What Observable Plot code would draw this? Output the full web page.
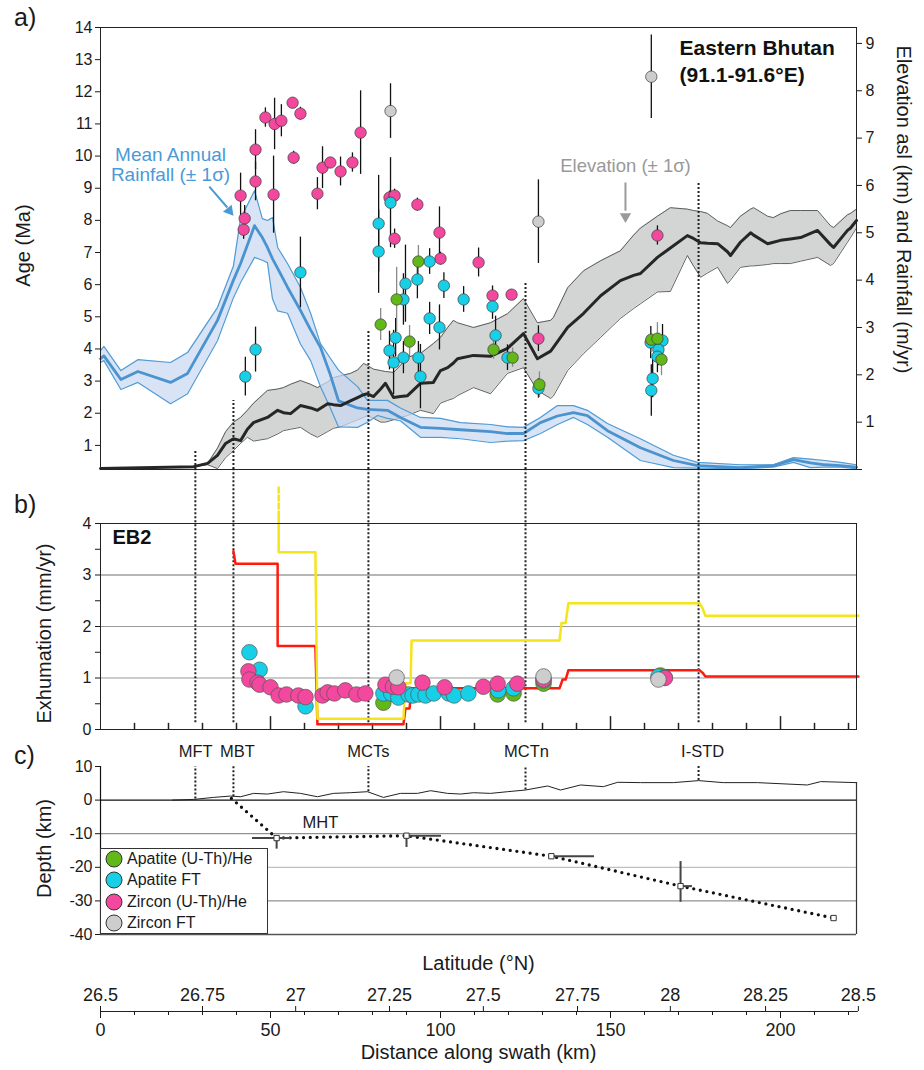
<!DOCTYPE html>
<html><head><meta charset="utf-8">
<script src="https://cdn.jsdelivr.net/npm/d3@7"></script>
<script src="https://cdn.jsdelivr.net/npm/@observablehq/plot@0.6"></script>
<style>
body{margin:0;background:#fff;}
#chart{position:relative;width:924px;height:1070px;font-family:"Liberation Sans",Arial,Helvetica,sans-serif;color:#1a1a1a;}
#chart > svg{position:absolute;left:0;}
.plbl{position:absolute;font-size:25px;line-height:1;}
.legend{position:absolute;left:100px;top:848px;width:168px;height:86px;box-sizing:border-box;border:1px solid #333;background:#fff;}
.legend .item{position:absolute;left:3px;font-size:16px;line-height:20px;height:20px;white-space:nowrap;display:flex;align-items:center;}
.legend .item svg{display:block;margin-right:3px;flex:none;}
</style></head><body><div id="chart"></div>
<script>
// ---------------- DATA ----------------
const KM_MAX = 222.35;

// faults (km along swath)
const faultNames   = ["MFT", "MBT", "MCTs", "MCTn", "I-STD"];
const faultKm      = [27.9, 39.1, 78.8, 125.0, 175.9];
const faultLabelKm = [28.0, 40.3, 78.8, 125.3, 177.1];
const faultTopAge  = [0.84, 2.4, 4.57, 6.07, 9.15];
const faultTopo    = [0.3, 1.0, 2.5, 3.0, 5.8];

// thermochronometer types
const typeKeys   = ["AHe", "AFT", "ZHe", "ZFT"];
const typeNames  = ["Apatite (U-Th)/He", "Apatite FT", "Zircon (U-Th)/He", "Zircon FT"];
const typeColors = ["#62b818", "#18cfe8", "#f4479e", "#cdcdcd"];

// panel a: cooling ages [km, age (Ma), 1σ]
const aheAges = [[82.4,4.76,0.5],[87.1,5.54,1.0],[90.9,4.23,0.5],[93.5,6.72,0.5],[115.6,3.98,0.3],[121.2,3.73,0.3],[129.1,2.89,0.4],[162.0,4.29,0.4],[163.8,4.32,0.5],[165.0,3.67,0.5]];
const aftAges = [[42.6,3.14,0.6],[45.6,3.98,0.7],[58.8,6.38,1.1],[81.8,7.9,1.5],[81.8,7.03,1.3],[85.3,8.55,1.4],[89.7,6.03,1.2],[93.2,6.16,0.6],[101.0,5.97,0.4],[89.1,5.54,0.8],[106.8,5.54,0.4],[115.3,5.32,0.4],[96.8,4.95,0.5],[99.7,4.67,0.7],[116.2,4.42,0.6],[86.8,4.35,0.6],[85.0,3.95,0.6],[89.1,3.73,0.5],[93.5,3.73,0.5],[86.2,3.58,1.0],[94.1,3.14,1.0],[96.8,6.72,0.4],[119.7,3.73,0.4],[128.8,2.77,0.3],[161.8,4.2,0.5],[165.3,4.26,0.5],[164.1,3.98,0.5],[163.8,3.76,0.5],[162.4,3.08,0.6],[162.0,2.71,0.8]];
const zheAges = [[41.2,8.77,0.7],[42.4,8.06,0.4],[42.1,7.71,0.3],[45.6,10.2,0.62],[45.6,9.21,0.6],[48.5,11.2,0.3],[51.2,11.0,0.8],[53.2,11.1,0.5],[50.9,8.8,1.2],[56.5,11.66,0.1],[58.8,11.32,0.2],[56.8,9.95,0.2],[65.3,9.64,0.65],[67.6,9.8,0.15],[63.8,8.83,0.5],[70.6,9.52,0.45],[74.1,9.8,0.3],[76.5,10.73,1.3],[85.0,8.71,0.2],[86.5,8.77,0.2],[93.2,8.49,0.2],[86.5,7.43,0.3],[99.7,7.62,0.8],[100.0,6.81,0.2],[111.2,6.69,0.45],[115.3,5.66,0.3],[120.9,5.69,0.15],[128.8,4.32,0.4],[163.8,7.53,0.3]];
const zftAges = [[85.3,11.4,0.85],[128.8,7.96,1.3],[162.0,12.47,1.3]];

// panel a: mean annual rainfall [km, mean-1σ, mean, mean+1σ] (m/yr)
const rainRows = [[0,2.26,2.34,2.51],[1,2.3,2.4,2.6],[6,1.69,1.9,2.09],[11,1.84,2.07,2.32],[20.6,1.39,1.84,2.26],[25.6,1.6,2.03,2.47],[34.4,2.72,3.15,3.42],[39.1,3.63,4.0,4.3],[41.2,3.95,4.35,5.3],[45.3,4.48,5.15,5.89],[47.6,4.42,4.9,5.3],[49.1,4.37,4.69,5.26],[50.6,3.6,4.45,5.32],[52.1,3.35,4.25,4.69],[55,3.3,3.85,4.35],[58.8,2.65,3.36,3.85],[61.8,2.3,2.95,3.3],[64.7,1.75,2.58,2.66],[67.6,1.3,2.0,2.35],[70,0.9,1.45,2.1],[75.6,0.89,1.3,1.75],[78.5,1.0,1.27,1.46],[81.5,1.14,1.26,1.46],[84.4,1.08,1.25,1.46],[88.2,1.03,1.1,1.3],[94.1,0.68,0.89,1.1],[100,0.68,0.87,1.08],[105.9,0.65,0.84,0.99],[114.7,0.57,0.8,0.95],[119.7,0.6,0.76,0.9],[124.4,0.61,0.76,0.89],[129.4,0.76,0.99,1.1],[134.4,0.95,1.13,1.35],[139.1,1.1,1.2,1.35],[143.2,0.95,1.14,1.25],[149.1,0.68,0.82,0.97],[158.8,0.19,0.46,0.65],[168.5,0.04,0.19,0.3],[175.6,0.03,0.08,0.15],[188.2,0.02,0.04,0.1],[197.9,0.05,0.08,0.1],[203.8,0.15,0.21,0.25],[208.8,0.04,0.14,0.22],[213,0.05,0.1,0.19],[217.6,0.05,0.08,0.15],[222.35,0.02,0.05,0.1]];

// panel a: elevation [km, mean-1σ, mean, mean+1σ] (km)
const elevRows = [[0,0.02,0.02,0.02],[27.4,0.06,0.06,0.06],[31.5,0.1,0.13,0.13],[34.4,0.02,0.3,0.45],[36.8,0.25,0.55,0.8],[39.1,0.4,0.65,1.0],[41.2,0.55,0.61,1.1],[43.2,0.68,0.85,1.25],[45,0.6,0.99,1.4],[49.1,0.65,1.1,1.67],[52.1,0.75,1.25,1.7],[53.8,0.82,1.2,1.73],[55.9,0.85,1.18,1.8],[58.8,0.89,1.35,1.88],[61.8,0.75,1.3,1.8],[63.8,0.68,1.25,1.73],[66.8,0.8,1.39,1.85],[68.5,0.87,1.37,1.94],[70.6,0.9,1.35,1.98],[73.5,0.99,1.45,2.03],[75.6,1.05,1.52,2.1],[77.4,1.1,1.58,2.24],[78.5,1.14,1.6,2.2],[80.3,1.08,1.54,2.12],[82.4,1.0,1.7,2.09],[83.8,1.0,1.82,2.07],[86.2,1.05,1.52,2.05],[88.2,1.1,1.54,2.2],[90.3,1.14,1.56,2.37],[94.1,1.25,1.82,2.45],[97.9,1.18,1.84,2.66],[100,1.4,2.09,2.79],[102.1,1.46,2.15,3.0],[103.8,1.5,2.25,3.15],[105,1.56,2.34,3.1],[109.7,1.73,2.41,3.0],[114.7,1.6,2.39,3.1],[119.7,2.03,2.56,3.29],[124.4,2.15,2.87,3.61],[128.5,1.67,2.34,3.1],[132.4,1.5,2.5,3.15],[133.2,1.55,2.58,3.21],[137.4,2.09,3.0,3.84],[142.1,2.45,3.3,4.2],[147.1,2.79,3.67,4.41],[152.9,3.19,3.99,4.62],[156.8,3.4,4.1,4.95],[158.8,3.5,4.14,5.1],[163.8,3.75,4.48,5.35],[167.6,3.76,4.68,5.53],[172.6,4.52,4.94,5.5],[174.4,4.3,4.88,5.47],[176.5,4.06,4.79,5.45],[178.5,4.15,4.78,5.41],[181.5,4.27,4.77,5.25],[184.4,3.93,4.6,5.15],[185.3,4.0,4.52,5.11],[188.2,4.27,4.8,5.35],[191.2,4.3,5.0,5.5],[192.1,4.3,4.95,5.53],[196.2,4.33,4.77,5.35],[197.9,4.35,4.8,5.32],[200,4.35,4.84,5.4],[202.9,4.35,4.87,5.47],[205.9,4.4,4.9,5.47],[210.9,4.48,5.05,5.47],[214.7,4.31,4.75,5.15],[215.6,4.35,4.69,5.11],[219.7,4.8,5.05,5.38],[220.6,4.9,5.1,5.41],[222.35,5.1,5.26,5.5]];

// panel b: exhumation rates [km, mm/yr]
const aheRates = [[83.2,0.52],[116.8,0.68],[121.5,0.7],[130.3,0.89],[164.7,1.05]];
const aftRates = [[43.8,1.5],[46.8,1.16],[60.3,0.45],[83.2,0.7],[85.5,0.7],[87.6,0.62],[90.6,0.68],[91.8,0.66],[93.5,0.68],[95.6,0.66],[98,0.7],[102.4,0.7],[104,0.66],[108.2,0.7],[117,0.76],[121.5,0.8],[130.3,0.95],[164.1,1.03],[165.9,1.01]];
const zheRates = [[43.5,1.13],[43.8,0.97],[46.2,0.91],[46.8,0.87],[50,0.82],[52.4,0.66],[54.7,0.68],[58.2,0.66],[60.3,0.63],[65.3,0.66],[66.8,0.72],[68.8,0.7],[72,0.76],[75.3,0.68],[77.9,0.7],[83.8,0.87],[86,0.83],[87.6,0.82],[94.7,0.91],[101.2,0.82],[112.6,0.83],[116.8,0.89],[122.6,0.89],[130.3,0.97],[166,1.0]];
const zftRates = [[87.1,1.01],[130.3,1.03],[164.1,0.97]];

// panel b: model exhumation profiles [km, mm/yr]
const redModel = [[39.1,3.46],[39.7,3.22],[52.1,3.22],[52.1,1.62],[63.2,1.62],[63.8,0.1],[89.1,0.1],[89.7,0.41],[90.9,0.41],[91.5,0.8],[135,0.8],[135.9,0.97],[136.8,0.97],[137.6,1.15],[176.2,1.15],[177.1,1.1],[177.9,1.03],[222.9,1.03]];
const yellowModel = [[52.4,4.12],[52.4,3.44],[63.2,3.44],[63.8,0.21],[89.1,0.21],[89.7,0.9],[91.2,0.9],[91.5,1.73],[135,1.73],[135.6,2.07],[136.8,2.07],[137.6,2.45],[176.2,2.45],[177.1,2.35],[177.9,2.21],[222.9,2.21]];
const yellowDashed = [[52.4,4.7],[52.4,4.12]];

// panel c: topography (km) and Main Himalayan Thrust geometry
const topoRows = [[21.2,0],[27.4,0.2],[33.2,0.8],[38.2,1.2],[41.2,1.0],[45,2.0],[49.1,1.8],[53.8,2.5],[58.8,2.0],[63.8,1.0],[68.5,2.0],[73.5,2.2],[78.5,2.5],[83.2,0.8],[88.2,2.0],[93.2,2.0],[97.1,2.8],[102.1,2.0],[105.9,1.8],[109.7,2.2],[114.7,2.0],[119.7,2.5],[125,3.0],[131.5,4.2],[135.3,3.0],[141.2,4.5],[147.9,4.0],[152.1,5.3],[158.8,5.2],[168.5,5.2],[175.9,5.8],[183.2,5.2],[193.2,5.2],[207.9,4.5],[211.8,5.5],[222.35,5.2]];
const mhtLine = [[38.5,0.5],[51.8,-11.3],[90,-10.6],[132.6,-16.7],[170.6,-25.6],[215.6,-35.1]];
const mhtNodes = [[51.8,-11.3],[90,-10.6],[132.6,-16.7],[170.6,-25.6],[215.6,-35.1]];
const mhtErrH = [[44.7,56,-11.3],[90,100.3,-10.6],[132.6,145.3,-16.7],[170.6,174.1,-25.6]];
const mhtErrV = [[51.8,-11.3,-14.6],[90,-10.6,-14.1],[170.6,-18.3,-30.4]];

// bottom axis
const distTicks = [0, 50, 100, 150, 200];
const latLabels = ["26.5","26.75","27","27.25","27.5","27.75","28","28.25","28.5"];
const latKm     = [0, 30.0, 57.4, 85.0, 112.6, 140.3, 167.6, 195.6, 222.9];

// annotation anchors (data units)
const rainNote = {km: 20.6, age: 9.24};
const elevNote = {km: 154.4, age: 9.49};
const titleNote = {km: 170.3, age: 12.29};
const noteArrows = [
  {x1: 32.0, y1: 9.05, x2: 37.3, y2: 8.4, tipX: 37.9, tipY: 8.3, angle: 141, color: "#4a9ad6"},
  {x1: 154.4, y1: 9.18, x2: 154.4, y2: 8.3, tipX: 154.4, tipY: 8.12, angle: 180, color: "#9a9a9a"}
];

// ---------------- BUILD ----------------
const W = 924, ML = 100, MR = 68;
const FONT = "'Liberation Sans', Arial, Helvetica, sans-serif";
const style = {fontFamily: FONT, fontSize: "16px", background: "transparent", overflow: "visible", color: "#1a1a1a"};
const AGE_MIN = 0.25, AGE_MAX = 14, R_MAX = 9.336;
const rToAge = r => AGE_MIN + r * (AGE_MAX - AGE_MIN) / R_MAX;
const ageToR = a => (a - AGE_MIN) * R_MAX / (AGE_MAX - AGE_MIN);

const faults = faultNames.map((name, i) => ({name, km: faultKm[i], labelKm: faultLabelKm[i], top: faultTopAge[i], topo: faultTopo[i]}));
const rain = rainRows.map(([km, lo, mean, hi]) => ({km, lo, mean, hi}));
const elev = elevRows.map(([km, lo, mean, hi]) => ({km, lo, mean, hi}));
const toAge = (arr, type) => arr.map(([km, age, err]) => ({km, age, err, type}));
const ages = {AHe: toAge(aheAges, "AHe"), AFT: toAge(aftAges, "AFT"), ZHe: toAge(zheAges, "ZHe"), ZFT: toAge(zftAges, "ZFT")};
const toRate = arr => arr.map(([km, rate]) => ({km, rate}));
const rates = {AHe: toRate(aheRates), AFT: toRate(aftRates), ZHe: toRate(zheRates), ZFT: toRate(zftRates)};
const col = Object.fromEntries(typeKeys.map((k, i) => [k, typeColors[i]]));
const dotted = {stroke: "#222", strokeWidth: 2, strokeDasharray: "2,2"};

const chart = document.getElementById("chart");
function place(svg, top) { svg.style.top = top + "px"; chart.appendChild(svg); }

// ---- panel a ----
const pa = Plot.plot({
  width: W, height: 470, marginLeft: ML, marginRight: MR, marginTop: 27, marginBottom: 1,
  x: {domain: [0, KM_MAX], axis: null},
  y: {domain: [AGE_MIN, AGE_MAX], axis: null},
  style,
  marks: [
    Plot.areaY(elev, {x: "km", y1: d => rToAge(d.lo), y2: d => rToAge(d.hi), fill: "#d3d5d5"}),
    Plot.lineY(elev, {x: "km", y: d => rToAge(d.lo), stroke: "#3c3c3c", strokeWidth: 0.8}),
    Plot.lineY(elev, {x: "km", y: d => rToAge(d.hi), stroke: "#3c3c3c", strokeWidth: 0.8}),
    Plot.areaY(rain, {x: "km", y1: d => rToAge(d.lo), y2: d => rToAge(d.hi), fill: "#c9daf1", fillOpacity: 0.72}),
    Plot.lineY(rain, {x: "km", y: d => rToAge(d.lo), stroke: "#4f9bd6", strokeWidth: 1.2}),
    Plot.lineY(rain, {x: "km", y: d => rToAge(d.hi), stroke: "#4f9bd6", strokeWidth: 1.2}),
    Plot.lineY(rain, {x: "km", y: d => rToAge(d.mean), stroke: "#4a93cf", strokeWidth: 2.8}),
    Plot.lineY(elev, {x: "km", y: d => rToAge(d.mean), stroke: "#262626", strokeWidth: 3}),
    Plot.ruleX(faults, {x: "km", y1: AGE_MIN, y2: "top", ...dotted}),
    ...["ZHe", "ZFT", "AFT", "AHe"].map(k => Plot.ruleX(ages[k], {x: "km", y1: d => d.age - d.err, y2: d => d.age + d.err, stroke: k === "AHe" ? "#8a8a8a" : "#111", strokeWidth: 1.3})),
    ...["ZHe", "ZFT", "AFT", "AHe"].map(k => Plot.dot(ages[k], {x: "km", y: "age", r: 5.7, fill: col[k], stroke: "#3a3a3a", strokeWidth: 0.7})),
    Plot.frame({stroke: "#222"}),
    Plot.axisY({anchor: "left", ticks: d3.range(1, 15), tickFormat: d => String(d), tickSize: 5, tickPadding: 3, label: null}),
    Plot.axisY({anchor: "right", ticks: d3.range(0, 10).map(rToAge), tickFormat: d => { const v = Math.round(ageToR(d)); return v === 0 ? "" : String(v); }, tickSize: 5, tickPadding: 4, label: null}),
    Plot.text(["Age (Ma)"], {frameAnchor: "left", textAnchor: "middle", dx: -77, dy: -3, rotate: -90, fontSize: 20}),
    Plot.text(["Elevation asl (km) and Rainfall (m/yr)"], {frameAnchor: "right", textAnchor: "middle", dx: 47, dy: -39, rotate: 90, fontSize: 20}),
    Plot.text([titleNote], {x: "km", y: "age", text: () => "Eastern Bhutan\n(91.1-91.6°E)", textAnchor: "start", lineAnchor: "bottom", lineHeight: 1.33, fontSize: 21, fontWeight: "bold", fill: "#111"}),
    Plot.text([rainNote], {x: "km", y: "age", text: () => "Mean Annual\nRainfall (± 1σ)", textAnchor: "middle", lineAnchor: "bottom", lineHeight: 1.03, fontSize: 19, fill: "#4a9ad6"}),
    Plot.text([elevNote], {x: "km", y: "age", text: () => "Elevation (± 1σ)", textAnchor: "middle", lineAnchor: "bottom", fontSize: 18.5, fill: "#999"}),
    Plot.link(noteArrows, {x1: "x1", y1: "y1", x2: "x2", y2: "y2", stroke: d => d.color, strokeWidth: 2}),
    Plot.dot(noteArrows, {x: "tipX", y: "tipY", symbol: "triangle", r: 4.2, rotate: "angle", fill: d => d.color, stroke: "none"})
  ]
});
place(pa, 0);

// ---- panel b ----
const pb = Plot.plot({
  width: W, height: 265, marginLeft: ML, marginRight: MR, marginTop: 53, marginBottom: 6,
  x: {domain: [0, KM_MAX], axis: null},
  y: {domain: [0, 4], axis: null},
  style,
  marks: [
    Plot.ruleY([1, 2], {stroke: "#9a9a9a", strokeWidth: 1.2}),
    Plot.ruleY([3], {stroke: "#6e6e6e", strokeWidth: 1.2}),
    Plot.ruleX(faults, {x: "km", y1: 0.13, y2: 5.06, ...dotted}),
    Plot.ruleX(d3.range(10, 221, 10), {x: d => d, y1: 0, y2: d => d % 50 === 0 ? 0.25 : 0.12, stroke: "#222", strokeWidth: 1.5}),
    Plot.line(redModel, {x: d => d[0], y: d => d[1], stroke: "#ff1a0d", strokeWidth: 2.5}),
    Plot.line(yellowModel, {x: d => d[0], y: d => d[1], stroke: "#f4e41c", strokeWidth: 2.5}),
    Plot.line(yellowDashed, {x: d => d[0], y: d => d[1], stroke: "#f4e41c", strokeWidth: 2.5, strokeDasharray: "5,3"}),
    ...["AHe", "AFT", "ZHe", "ZFT"].map(k => Plot.dot(rates[k], {x: "km", y: "rate", r: 7.8, fill: col[k], stroke: "#555", strokeWidth: 0.7})),
    Plot.frame({stroke: "#222"}),
    Plot.axisY({ticks: [0, 1, 2, 3, 4], tickFormat: d => String(d), tickSize: 5, tickPadding: 4, label: null}),
    Plot.axisY({ticks: [0.5, 1.5, 2.5, 3.5], tickSize: 5, tickFormat: () => "", label: null}),
    Plot.text(["EB2"], {frameAnchor: "top-left", dx: 12, dy: 20, lineAnchor: "bottom", fontSize: 20, fontWeight: "bold", fill: "#111"}),
    Plot.text(["Exhumation (mm/yr)"], {frameAnchor: "left", textAnchor: "middle", dx: -56, dy: 7, rotate: -90, fontSize: 20})
  ]
});
place(pb, 470);

// ---- panel c ----
const topo = topoRows.map(([km, z]) => ({km, z}));
const pc = Plot.plot({
  width: W, height: 200, marginLeft: ML, marginRight: MR, marginTop: 26, marginBottom: 6,
  x: {domain: [0, KM_MAX], axis: null},
  y: {domain: [-40, 10], axis: null},
  style,
  marks: [
    Plot.ruleY([-10, -30], {stroke: "#777"}),
    Plot.ruleY([-20], {stroke: "#b0b0b0"}),
    Plot.ruleY([-40], {stroke: "#555", strokeWidth: 1.3}),
    Plot.ruleY([0], {stroke: "#111", strokeWidth: 1.2}),
    Plot.ruleX([0], {y1: -40, y2: 10, stroke: "#111", strokeWidth: 1.2}),
    Plot.ruleX([KM_MAX], {y1: -40, y2: topo[topo.length - 1].z, stroke: "#333", strokeWidth: 1.2}),
    Plot.line(topo, {x: "km", y: "z", stroke: "#222", strokeWidth: 1}),
    Plot.ruleX(faults, {x: "km", y1: "topo", y2: 10, ...dotted}),
    Plot.text(faults, {x: "labelKm", y: 12.8, text: "name", lineAnchor: "bottom", fontSize: 16.5}),
    Plot.line(mhtLine, {x: d => d[0], y: d => d[1], stroke: "#111", strokeWidth: 3.3, strokeDasharray: "0,6.7", strokeLinecap: "round"}),
    Plot.ruleY(mhtErrH, {x1: d => d[0], x2: d => d[1], y: d => d[2], stroke: "#444", strokeWidth: 2}),
    Plot.ruleX(mhtErrV, {x: d => d[0], y1: d => d[1], y2: d => d[2], stroke: "#444", strokeWidth: 2}),
    Plot.dot(mhtNodes, {x: d => d[0], y: d => d[1], symbol: "square", r: 3, fill: "white", stroke: "#333", strokeWidth: 1}),
    Plot.text(["MHT"], {x: 64.7, y: -8.33, lineAnchor: "bottom", fontSize: 16.5}),
    Plot.axisY({ticks: [10, 0, -10, -20, -30, -40], tickFormat: d => String(d), tickSize: 5, tickPadding: 3, label: null}),
    Plot.text(["Depth (km)"], {frameAnchor: "left", textAnchor: "middle", dx: -56, dy: -2, rotate: -90, fontSize: 20})
  ]
});
place(pc, 740);

// ---- bottom axes ----
const latByKm = new Map(latKm.map((k, i) => [k, latLabels[i]]));
const pd = Plot.plot({
  width: W, height: 130, marginLeft: ML, marginRight: MR, marginTop: 70, marginBottom: 59,
  x: {domain: [0, KM_MAX]},
  y: {domain: [0, 1], axis: null},
  style,
  marks: [
    Plot.ruleY([0], {x1: 0, x2: 222.9, stroke: "#222", strokeWidth: 1.2}),
    Plot.axisX({anchor: "bottom", ticks: d3.range(0, 221, 10), tickSize: 4, tickFormat: () => "", label: null}),
    Plot.axisX({anchor: "bottom", ticks: distTicks, tickSize: 7, tickPadding: 5, fontSize: 18, label: null}),
    Plot.axisX({anchor: "top", ticks: latKm, tickFormat: d => latByKm.get(d), tickSize: 5, tickPadding: 5, fontSize: 18, label: null}),
    Plot.text(["Latitude (°N)"], {frameAnchor: "top", dy: -41, lineAnchor: "bottom", fontSize: 20}),
    Plot.text(["Distance along swath (km)"], {frameAnchor: "bottom", dy: 47, lineAnchor: "bottom", fontSize: 20})
  ]
});
place(pd, 940);

// ---- panel letters ----
[["a)", 5], ["b)", 492], ["c)", 743]].forEach(([t, top]) => {
  const d = document.createElement("div");
  d.className = "plbl"; d.textContent = t; d.style.left = "14px"; d.style.top = top + "px";
  chart.appendChild(d);
});

// ---- legend ----
const lg = document.createElement("div");
lg.className = "legend";
typeNames.forEach((name, i) => {
  const it = document.createElement("div");
  it.className = "item";
  it.style.top = (i * 21.3) + "px";
  it.innerHTML = `<svg width="20" height="20"><circle cx="10" cy="10" r="8" fill="${typeColors[i]}" stroke="#333" stroke-width="1"/></svg><span>${name}</span>`;
  lg.appendChild(it);
});
chart.appendChild(lg);
</script></body></html>
